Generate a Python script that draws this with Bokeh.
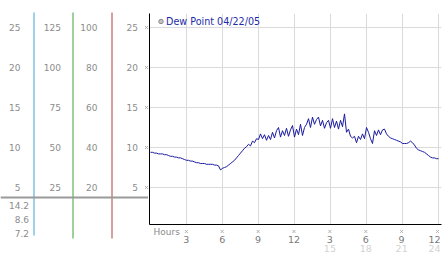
from bokeh.plotting import figure
from bokeh.layouts import row, column
from bokeh.models import Range1d, FixedTicker, Legend, LegendItem
from bokeh.embed import file_html
from bokeh.resources import INLINE
from bokeh.core.properties import value

# ---------------- data ----------------
sample_minutes = list(range(0, 24 * 60 + 1, 10))
dew_point = [
    9.4, 9.4, 9.3, 9.3, 9.2, 9.2,
    9.2, 9.1, 9.1, 9.0, 8.9, 8.9,
    8.8, 8.8, 8.7, 8.7, 8.6, 8.5,
    8.4, 8.4, 8.3, 8.3, 8.2, 8.1,
    8.1, 8.0, 8.0, 8.0, 7.9, 7.9,
    7.9, 7.9, 7.8, 7.8, 7.7, 7.2,
    7.4, 7.5, 7.6, 7.8, 8.0, 8.2,
    8.4, 8.7, 9.0, 9.3, 9.6, 9.9,
    10.1, 10.4, 10.2, 10.8, 10.6, 11.1,
    11.0, 11.7, 11.1, 11.6, 10.9, 11.5,
    11.0, 11.9, 11.2, 12.1, 12.5, 11.3,
    12.1, 11.5, 12.4, 11.4, 12.2, 12.75,
    11.3, 12.3, 11.6, 12.9, 11.5, 12.5,
    12.9, 13.6, 12.5, 13.8, 12.9, 13.5,
    13.8, 12.7, 13.4, 12.4, 13.1, 13.4,
    12.4, 13.6, 12.5, 13.3, 12.3, 13.4,
    12.6, 14.2, 11.9, 12.3, 11.4, 11.2,
    11.4, 10.6, 11.4, 11.0, 11.7, 11.1,
    12.5, 11.9, 11.1, 10.5, 12.1, 11.5,
    12.2, 11.6, 12.2, 12.3, 11.7, 11.4,
    11.2, 11.1, 11.0, 10.9, 10.8, 10.7,
    10.5, 10.5, 10.5, 10.6, 10.8, 10.6,
    10.3, 9.9, 9.7, 9.6, 9.5, 9.4,
    9.2, 9.0, 8.8, 8.7, 8.7, 8.6,
    8.6,
]
grid_values = [5, 10, 15, 20, 25]
axis1_labels = ["5", "10", "15", "20", "25"]
axis2_labels = ["25", "50", "75", "100", "125"]
axis3_labels = ["20", "40", "60", "80", "100"]
axis4_labels = ["5", "10", "15", "20", "25"]
stat_labels = ["14.2", "8.6", "7.2"]
hour_ticks = [3, 6, 9, 12, 15, 18, 21, 24]
hour_labels = ["3", "6", "9", "12", "3", "6", "9", "12"]
hour_labels_24 = ["", "", "", "", "15", "18", "21", "24"]
series_name = "Dew Point 04/22/05"
x_axis_name = "Hours"

hours = [m / 60 for m in sample_minutes]

# ---------------- geometry ----------------
FRAME_TOP, FRAME_BOTTOM = 13, 224
LEFT_W, MAIN_W, MAIN_H, BOTTOM_H, TOTAL_H = 148, 294, 225, 28, 253
Y0, Y1 = 0.375, 26.75
X0, X1 = -1 / 12, 24.25
UPP = (Y1 - Y0) / (FRAME_BOTTOM - FRAME_TOP)


def ly(px):
    return Y1 - (px - FRAME_TOP) * UPP


FONT = value("DejaVu Sans")
LABEL_GRAY = "#8c8c8c"

# ---------------- left panel (scale columns) ----------------
L = figure(width=LEFT_W, height=TOTAL_H, x_range=Range1d(0, LEFT_W),
           y_range=Range1d(ly(TOTAL_H), ly(0)), toolbar_location=None,
           output_backend="svg", x_axis_location=None, y_axis_location=None,
           min_border=0, outline_line_color=None)
L.grid.visible = False

col_x = [33.5, 72.5, 111.5]
col_colors = ["#3fa2d4", "#3aa43a", "#b23c3c"]
col_bottom = [235, 238, 238]
L.segment(x0=col_x, y0=[ly(12)] * 3, x1=col_x, y1=[ly(b) for b in col_bottom],
          line_color=col_colors, line_width=1)
L.segment(x0=[0], y0=[ly(197)], x1=[LEFT_W], y1=[ly(197)],
          line_color="#9a9a9a", line_width=2)

for rx, labs in [(20, axis1_labels), (60.5, axis2_labels),
                 (97, axis3_labels), (137.5, axis4_labels)]:
    L.text(x=[rx] * len(labs), y=grid_values, text=labs, text_align="right",
           text_baseline="middle", text_font=FONT, text_font_size="9px",
           text_color=LABEL_GRAY)
L.scatter(x=[146] * len(grid_values), y=grid_values, marker="x", size=4,
          line_color="#ababab")
L.text(x=[28.5] * 3, y=[ly(204.5), ly(218.5), ly(232.5)], text=stat_labels,
       text_align="right", text_baseline="middle", text_font=FONT,
       text_font_size="9px", text_color=LABEL_GRAY)

# ---------------- main chart ----------------
M = figure(width=MAIN_W, height=MAIN_H, x_range=Range1d(X0, X1),
           y_range=Range1d(Y0, Y1), toolbar_location=None, output_backend="svg",
           min_border_left=1, min_border_right=1, min_border_top=FRAME_TOP,
           min_border_bottom=1, outline_line_color=None)
for ax in (M.xaxis, M.yaxis):
    ax.ticker = FixedTicker(ticks=[])
    ax.axis_line_color = "black"
    ax.axis_line_width = 1
    ax.major_tick_in = 0
    ax.major_tick_out = 0
    ax.minor_tick_in = 0
    ax.minor_tick_out = 0
    ax.major_label_standoff = 0
M.xgrid.ticker = FixedTicker(ticks=hour_ticks)
M.ygrid.ticker = FixedTicker(ticks=grid_values)
M.grid.grid_line_color = "#dadada"
M.grid.grid_line_width = 1

M.line(hours, dew_point, line_color="#1a1aa0", line_width=1)
dot = M.scatter(x=[float("nan")], y=[float("nan")], marker="circle", size=5,
                fill_color="#c4c4c4", line_color="#8a8a8a")
legend = Legend(items=[LegendItem(label=value(series_name), renderers=[dot])],
                location=(6, 197), orientation="vertical", padding=0, margin=0,
                spacing=0, border_line_color=None, background_fill_alpha=0,
                glyph_width=11, glyph_height=12, label_height=12, label_width=10,
                label_standoff=0, label_text_font="DejaVu Sans",
                label_text_font_size="9.6px", label_text_color="#1c2ca8")
M.add_layout(legend)

# ---------------- hour labels strip ----------------
B = figure(width=MAIN_W, height=BOTTOM_H, x_range=Range1d(X0, X1 + 1 / 12),
           y_range=Range1d(BOTTOM_H, 0), toolbar_location=None,
           output_backend="svg", x_axis_location=None, y_axis_location=None,
           min_border_left=1, min_border_right=0, min_border_top=0,
           min_border_bottom=0, outline_line_color=None)
B.grid.visible = False
edge_shift = [0, 0, 0, 0, 0, 0, 0, -3]
B.scatter(x=hour_ticks, y=[6] * len(hour_ticks), marker="x", size=4,
          line_color="#b0b0b0")
B.text(x=[0.25], y=[6.5], text=[x_axis_name], text_align="left",
       text_baseline="middle", text_font=FONT, text_font_size="9px",
       text_color="#8a8a8a")
B.text(x=hour_ticks, y=[13.5] * len(hour_ticks), text=hour_labels,
       x_offset=edge_shift, text_align="center", text_baseline="middle",
       text_font=FONT, text_font_size="9.5px", text_color="#7a7a7a")
B.text(x=hour_ticks, y=[22.5] * len(hour_ticks), text=hour_labels_24,
       x_offset=edge_shift, text_align="center", text_baseline="middle",
       text_font=FONT, text_font_size="9.5px", text_color="#d2d2d2")

layout = row(L, column(M, B))
open("out.html", "w").write(file_html(layout, INLINE))
